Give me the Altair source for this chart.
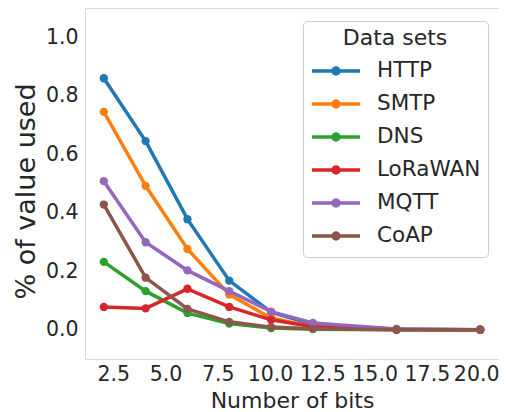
import altair as alt
import pandas as pd

bits = [2, 4, 6, 8, 10, 12, 16, 20]
series_names = ["HTTP", "SMTP", "DNS", "LoRaWAN", "MQTT", "CoAP"]
http = [0.86, 0.645, 0.378, 0.168, 0.060, 0.018, 0.002, 0.0]
smtp = [0.745, 0.492, 0.276, 0.120, 0.040, 0.010, 0.001, 0.0]
dns = [0.232, 0.132, 0.057, 0.021, 0.006, 0.002, 0.0, 0.0]
lorawan = [0.078, 0.073, 0.140, 0.078, 0.034, 0.010, 0.001, 0.0]
mqtt = [0.508, 0.299, 0.203, 0.132, 0.062, 0.023, 0.003, 0.0]
coap = [0.428, 0.178, 0.071, 0.027, 0.009, 0.003, 0.0, 0.0]
colors = ["#1f77b4", "#ff7f0e", "#2ca02c", "#d62728", "#9467bd", "#8c564b"]
x_ticks = [2.5, 5.0, 7.5, 10.0, 12.5, 15.0, 17.5, 20.0]
y_ticks = [0.0, 0.2, 0.4, 0.6, 0.8, 1.0]

values = [http, smtp, dns, lorawan, mqtt, coap]
FONT = "DejaVu Sans"
TXT = "#262626"

color_scale = alt.Scale(domain=series_names, range=colors)
legend_symbol = ("M-1,0H1"
                 "M-0.125,0a0.125,0.125 0 1,0 0.25,0a0.125,0.125 0 1,0 -0.25,0"
                 "M-0.06,0a0.06,0.06 0 1,0 0.12,0a0.06,0.06 0 1,0 -0.12,0")

layers = []
for name, vals in zip(series_names, values):
    df = pd.DataFrame({"bits": bits, "value": vals, "set": name})
    layer = alt.Chart(df).mark_line(
        strokeWidth=3.5,
        point=alt.OverlayMarkDef(filled=True, size=70, opacity=1),
    ).encode(
        x=alt.X("bits:Q",
                scale=alt.Scale(domain=[1.1, 20.9], nice=False, zero=False),
                axis=alt.Axis(title="Number of bits", values=x_ticks, format=".1f",
                              ticks=False, domain=False, grid=False,
                              labelFontSize=20.5, labelPadding=5, labelColor=TXT,
                              labelOffset=alt.condition("datum.value >= 20", alt.value(-4), alt.value(-1)),
                              titleFontSize=22, titleFontWeight="normal", titleColor=TXT,
                              titleBaseline="alphabetic", titleY=48)),
        y=alt.Y("value:Q",
                scale=alt.Scale(domain=[-0.1, 1.1], nice=False, zero=False),
                axis=alt.Axis(title="% of value used", values=y_ticks, format=".1f",
                              ticks=False, domain=False, grid=False,
                              labelFontSize=20.5, labelPadding=7, labelColor=TXT,
                              titleFontSize=27, titleFontWeight="normal", titleColor=TXT,
                              titleAngle=270, titleBaseline="alphabetic", titleAlign="center",
                              titleX=-51, titleY=183)),
        color=alt.Color("set:N", scale=color_scale,
                        legend=alt.Legend(
                            title="Data sets", orient="none", legendX=218, legendY=13,
                            symbolType=legend_symbol, symbolSize=2304,
                            symbolStrokeWidth=3.5, labelOffset=15,
                            labelFontSize=21.5, labelColor=TXT, labelFont=FONT,
                            titleFontSize=22, titleFontWeight="normal", titleColor=TXT,
                            titleFont=FONT, titleAnchor="middle", titlePadding=7,
                            clipHeight=28, rowPadding=5, padding=7,
                            fillColor="white", strokeColor="#cccccc", cornerRadius=4,
                        )),
    )
    layers.append(layer)

chart = alt.layer(*layers).properties(
    width=414, height=351,
    autosize=alt.AutoSizeParams(type="none"),
    padding={"left": 77, "top": 0, "right": 0, "bottom": 53},
).configure_view(
    stroke="#555555", strokeWidth=1.25
).configure(
    font=FONT, background="white"
)

chart.save("out.html", embed_options={"renderer": "svg", "actions": False})
